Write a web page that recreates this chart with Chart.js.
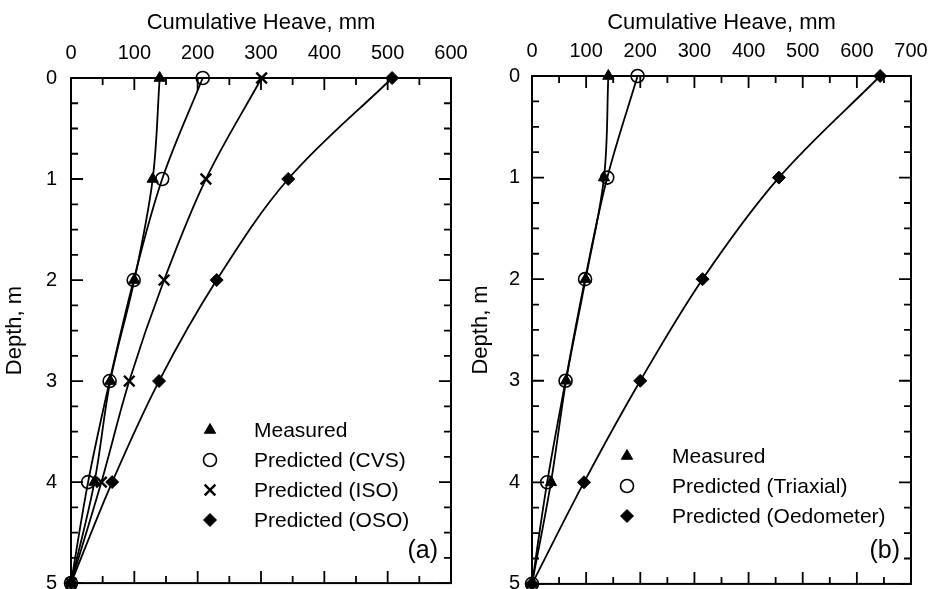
<!DOCTYPE html>
<html>
<head>
<meta charset="utf-8">
<script src="https://cdn.jsdelivr.net/npm/chart.js@4.4.0/dist/chart.umd.min.js"></script>
<style>
  body { margin: 0; background: #fff; overflow: hidden; }
  .panel { position: absolute; top: 0; }
</style>
</head>
<body>
<div class="panel" style="left:0"><canvas id="chartA" width="480" height="593"></canvas></div>
<div class="panel" style="left:466px"><canvas id="chartB" width="466" height="592"></canvas></div>
<script>
// depth, m
const depths = [0, 1, 2, 3, 4, 5];

// panel (a): cumulative heave, mm
const measuredA = [140, 129, 100, 62, 37, 0];
const cvsA = [208, 144, 99, 61, 27, 0];
const isoA = [301, 213, 147, 92, 48, 0];
const osoA = [507, 343, 230, 139, 65, 0];

// panel (b): cumulative heave, mm
const measuredB = [141, 133, 99, 63, 35, 0];
const triaxialB = [195, 139, 98, 62, 28, 0];
const oedometerB = [643, 456, 315, 200, 96, 0];

// tick labels
const xTicksA = [0, 100, 200, 300, 400, 500, 600];
const xTicksB = [0, 100, 200, 300, 400, 500, 600, 700];
const yTicks = [0, 1, 2, 3, 4, 5];
// tick marks (major + minor)
const xMarksA = [0, 50, 100, 150, 200, 250, 300, 350, 400, 450, 500, 550, 600];
const xMarksB = [0, 50, 100, 150, 200, 250, 300, 350, 400, 450, 500, 550, 600, 650, 700];
const yMarks = [0, 0.25, 0.5, 0.75, 1, 1.25, 1.5, 1.75, 2, 2.25, 2.5, 2.75, 3, 3.25, 3.5, 3.75, 4, 4.25, 4.5, 4.75, 5];

const FONT = 'Liberation Sans, Arial, Helvetica, sans-serif';

function series(label, values, style) {
  return {
    label: label,
    data: values.map((v, i) => ({ x: v, y: depths[i] })),
    showLine: true,
    tension: 0.35,
    borderColor: '#000',
    borderWidth: 1.8,
    pointBorderColor: '#000',
    clip: false,
    ...style
  };
}

const triangle = { pointStyle: 'triangle', pointRadius: 6.5, pointBackgroundColor: '#000', pointBorderWidth: 1 };
const circle = { pointStyle: 'circle', pointRadius: 6.5, pointBackgroundColor: 'rgba(0,0,0,0)', pointBorderWidth: 1.6 };
const cross = { pointStyle: 'crossRot', pointRadius: 7.5, pointBackgroundColor: '#000', pointBorderWidth: 2.4 };
const diamond = { pointStyle: 'rectRot', pointRadius: 6.5, pointBackgroundColor: '#000', pointBorderWidth: 1 };

// 画边框、内向刻度、图例和面板标签
const framePlugin = {
  id: 'frame',
  afterDatasetsDraw(chart, args, opts) {
    const { ctx, chartArea: a, scales: { x, y } } = chart;
    ctx.save();
    ctx.strokeStyle = '#000';
    ctx.lineWidth = 2;
    ctx.strokeRect(a.left, a.top, a.right - a.left, a.bottom - a.top);

    ctx.lineWidth = 1.8;
    ctx.beginPath();
    opts.xMarks.forEach(v => {
      const px = x.getPixelForValue(v);
      const len = v % 100 === 0 ? 12 : 7;
      ctx.moveTo(px, a.top); ctx.lineTo(px, a.top + len);
      ctx.moveTo(px, a.bottom); ctx.lineTo(px, a.bottom - len);
    });
    yMarks.forEach(v => {
      const py = y.getPixelForValue(v);
      const len = v % 1 === 0 ? 12 : 7;
      ctx.moveTo(a.left, py); ctx.lineTo(a.left + len, py);
      ctx.moveTo(a.right, py); ctx.lineTo(a.right - len, py);
    });
    ctx.stroke();

    // 图例
    const lg = opts.legend;
    ctx.font = '21px ' + FONT;
    ctx.textAlign = 'left';
    ctx.textBaseline = 'middle';
    chart.data.datasets.forEach((ds, i) => {
      const py = lg.y + i * lg.dy;
      ctx.fillStyle = ds.pointBackgroundColor;
      ctx.strokeStyle = '#000';
      ctx.lineWidth = ds.pointBorderWidth;
      Chart.helpers.drawPoint(ctx, {
        pointStyle: ds.pointStyle,
        radius: ds.pointRadius,
        borderWidth: ds.pointBorderWidth,
        rotation: 0
      }, lg.x, py);
      ctx.fillStyle = '#000';
      ctx.fillText(ds.label, lg.textX, py + 1);
    });

    ctx.font = '25px ' + FONT;
    ctx.textAlign = 'right';
    ctx.fillText(opts.tag.text, opts.tag.x, opts.tag.y);
    ctx.restore();
  }
};

function makeChart(id, datasets, cfg) {
  return new Chart(document.getElementById(id), {
    type: 'scatter',
    data: { datasets: datasets },
    plugins: [framePlugin],
    options: {
      responsive: false,
      animation: false,
      layout: { padding: { left: cfg.padLeft, top: 6, right: cfg.padRight, bottom: cfg.padBottom } },
      plugins: {
        legend: { display: false },
        tooltip: { enabled: false },
        frame: { xMarks: cfg.xMarks, legend: cfg.legend, tag: cfg.tag }
      },
      scales: {
        x: {
          type: 'linear',
          position: 'top',
          min: 0,
          max: cfg.xMax,
          afterBuildTicks: s => { s.ticks = cfg.xTicks.map(v => ({ value: v })); },
          afterFit: s => { s.height = cfg.plotTop - 6; s.paddingLeft = 0; s.paddingRight = 0; },
          grid: { display: false, drawTicks: false },
          border: { display: false },
          ticks: { color: '#000', padding: 13, font: { family: FONT, size: 20 } },
          title: { display: true, text: 'Cumulative Heave, mm', color: '#000', font: { family: FONT, size: 22 } }
        },
        y: {
          type: 'linear',
          reverse: true,
          min: 0,
          max: 5,
          afterBuildTicks: s => { s.ticks = yTicks.map(v => ({ value: v })); },
          afterFit: s => { s.width = cfg.plotLeft - cfg.padLeft; s.paddingTop = 0; s.paddingBottom = 0; },
          grid: { display: false, drawTicks: false },
          border: { display: false },
          ticks: { color: '#000', padding: cfg.yPad, font: { family: FONT, size: 20 } },
          title: { display: true, text: 'Depth, m', color: '#000', padding: { top: 2, bottom: 4 }, font: { family: FONT, size: 22 } }
        }
      }
    }
  });
}

makeChart('chartA', [
  series('Measured', measuredA, triangle),
  series('Predicted (CVS)', cvsA, circle),
  series('Predicted (ISO)', isoA, cross),
  series('Predicted (OSO)', osoA, diamond)
], {
  padLeft: 0, padRight: 29, padBottom: 6, plotLeft: 71, plotTop: 78, yPad: 14,
  xMax: 600, xTicks: xTicksA, xMarks: xMarksA,
  legend: { x: 210, textX: 254, y: 430, dy: 30 },
  tag: { text: '(a)', x: 438, y: 551 }
});

makeChart('chartB', [
  series('Measured', measuredB, triangle),
  series('Predicted (Triaxial)', triaxialB, circle),
  series('Predicted (Oedometer)', oedometerB, diamond)
], {
  padLeft: 0, padRight: 21, padBottom: 7, plotLeft: 66, plotTop: 76, yPad: 12,
  xMax: 700, xTicks: xTicksB, xMarks: xMarksB,
  legend: { x: 161, textX: 206, y: 456, dy: 30 },
  tag: { text: '(b)', x: 434, y: 551 }
});
</script>
</body>
</html>
